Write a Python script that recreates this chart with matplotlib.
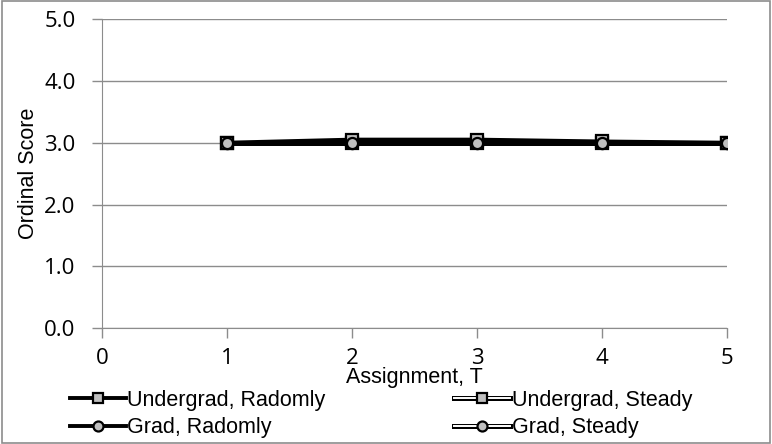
import matplotlib.pyplot as plt
from matplotlib.patches import Rectangle
from matplotlib.legend_handler import HandlerTuple

# data
assignments = [1, 2, 3, 4, 5]
undergrad_randomly = [3.0, 3.05, 3.05, 3.02, 3.0]
undergrad_steady = [3.0, 3.0, 3.0, 3.0, 3.0]
grad_randomly = [3.0, 3.0, 3.0, 3.0, 3.0]
grad_steady = [3.0, 3.0, 3.0, 3.0, 3.0]

label_font = ['Liberation Sans', 'DejaVu Sans']
tick_font = ['Open Sans', 'DejaVu Sans']

fig = plt.figure(figsize=(7.72, 4.44), dpi=100)
ax = fig.add_axes([0.132, 0.261, 0.810, 0.696])

# outline round the whole chart
fig.patches.append(Rectangle((0.002, 0.003), 0.995, 0.994, transform=fig.transFigure,
                             fill=False, edgecolor='#8c8c8c', linewidth=1.2))

marker_style = dict(markersize=8, markeredgecolor='black', markerfacecolor='#bfbfbf',
                    markeredgewidth=1.6)

def steady_line(y, marker):
    # white line with a black outline, kept under the solid lines
    outer, = ax.plot(assignments, y, color='black', linewidth=3.6, zorder=2)
    inner, = ax.plot(assignments, y, color='white', linewidth=1.4, marker=marker,
                     zorder=2.1, **marker_style)
    return (outer, inner)

us = steady_line(undergrad_steady, 's')
gs = steady_line(grad_steady, 'o')
ur, = ax.plot(assignments, undergrad_randomly, color='black', linewidth=2.8, marker='s',
              zorder=3, **marker_style)
gr, = ax.plot(assignments, grad_randomly, color='black', linewidth=2.8, marker='o',
              zorder=3.1, **marker_style)

ax.set_xlim(0, 5)
ax.set_ylim(0, 5)
ax.set_yticks([0, 1, 2, 3, 4, 5])
ax.set_yticklabels(['0.0', '1.0', '2.0', '3.0', '4.0', '5.0'])
ax.set_xticks([0, 1, 2, 3, 4, 5])
ax.grid(axis='y', color='#8c8c8c', linewidth=1)
ax.set_axisbelow(True)

for s in ['top', 'right']:
    ax.spines[s].set_visible(False)
for s in ['left', 'bottom']:
    ax.spines[s].set_color('#8c8c8c')
ax.tick_params(axis='both', direction='out', color='#8c8c8c', length=7, width=1,
               labelsize=16, labelfontfamily=tick_font)
ax.tick_params(axis='x', pad=7)
ax.tick_params(axis='y', pad=12)

ax.set_ylabel('Ordinal Score', fontsize=15.5, family=label_font, labelpad=4)
ax.set_xlabel('Assignment, T', fontsize=15.5, family=label_font, labelpad=-1)

# row-wise order as in the reference
fig.legend([ur, gr, us, gs],
           ['Undergrad, Radomly', 'Grad, Radomly', 'Undergrad, Steady', 'Grad, Steady'],
           handler_map={tuple: HandlerTuple(ndivide=1)},
           loc='upper left', bbox_to_anchor=(0.0907, 0.122), ncol=2, frameon=False,
           prop={'family': label_font, 'size': 15.5}, handlelength=2.6, handletextpad=0.05,
           columnspacing=6.0, labelspacing=0.3, borderpad=0, borderaxespad=0,
           markerscale=0.9)

fig.savefig('out.png', dpi=100)
